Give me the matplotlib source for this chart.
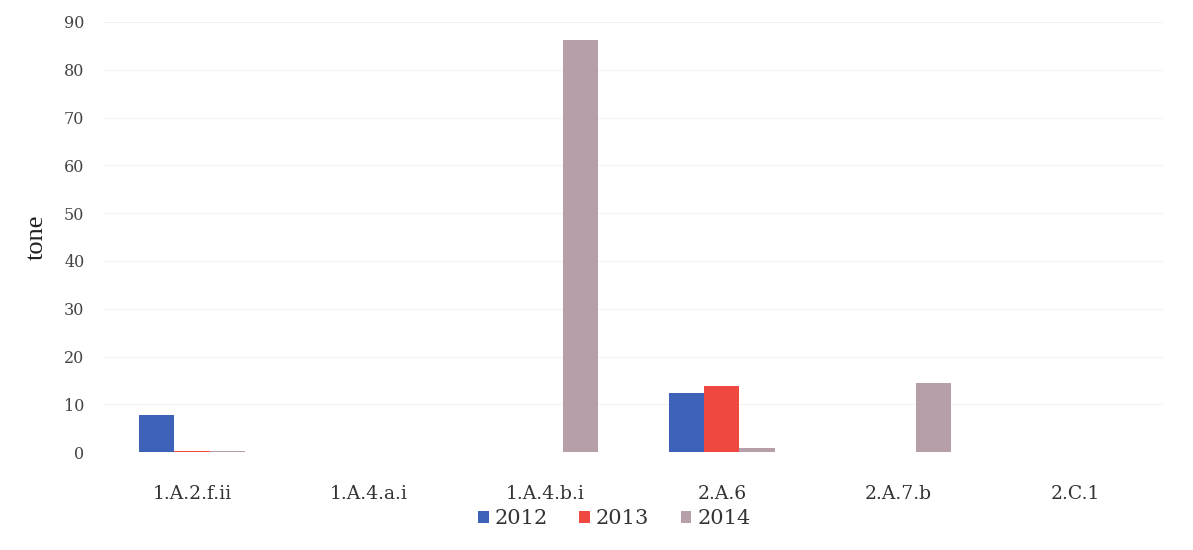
import numpy as np
import matplotlib.pyplot as plt

categories = ['1.A.2.f.ii', '1.A.4.a.i', '1.A.4.b.i', '2.A.6', '2.A.7.b', '2.C.1']
years = ['2012', '2013', '2014']
v2012 = [7.8, 0, 0, 12.4, 0, 0]
v2013 = [0.3, 0, 0, 13.9, 0, 0]
v2014 = [0.15, 0, 86.2, 0.8, 14.5, 0]
colors = ['#3d62b8', '#ef4841', '#b79fa9']

fig = plt.figure(figsize=(11.93, 5.5), dpi=100)
ax = fig.add_axes([0.087, 0.178, 0.888, 0.782])
ax.set_axisbelow(True)

barwidth = 0.2
pos = np.arange(len(categories))
for i, (vals, yr) in enumerate(zip([v2012, v2013, v2014], years)):
  ax.bar(pos + (i - 1)*barwidth, vals, width=barwidth, color=colors[i], label=yr)

ax.set_ylim(0, 90)
ax.set_xlim(-0.5, len(categories) - 0.5)
ax.set_yticks(np.arange(0, 91, 10))
ax.set_xticks(pos)
ax.set_xticklabels(categories, fontsize=13.5, family='DejaVu Serif', color='#333333')
for lab in ax.get_yticklabels():
  lab.set_family('DejaVu Serif')
  lab.set_fontsize(11.5)
  lab.set_color('#444444')
ax.tick_params(axis='x', length=0, pad=24)
ax.tick_params(axis='y', length=0, pad=14)
ax.yaxis.grid(color='#f2f2f2', linewidth=0.8)
for s in ax.spines.values():
  s.set_visible(False)

ax.set_ylabel('tone', fontsize=19, family='Liberation Serif', color='#222222', labelpad=12)

ax.legend(loc='center', bbox_to_anchor=(0.482, -0.155), ncol=3, frameon=False,
          prop={'family': 'DejaVu Serif', 'size': 15}, handlelength=0.5, handleheight=0.5,
          handletextpad=0.3, columnspacing=1.5, labelcolor='#333333')

fig.savefig('out.png', dpi=100)
